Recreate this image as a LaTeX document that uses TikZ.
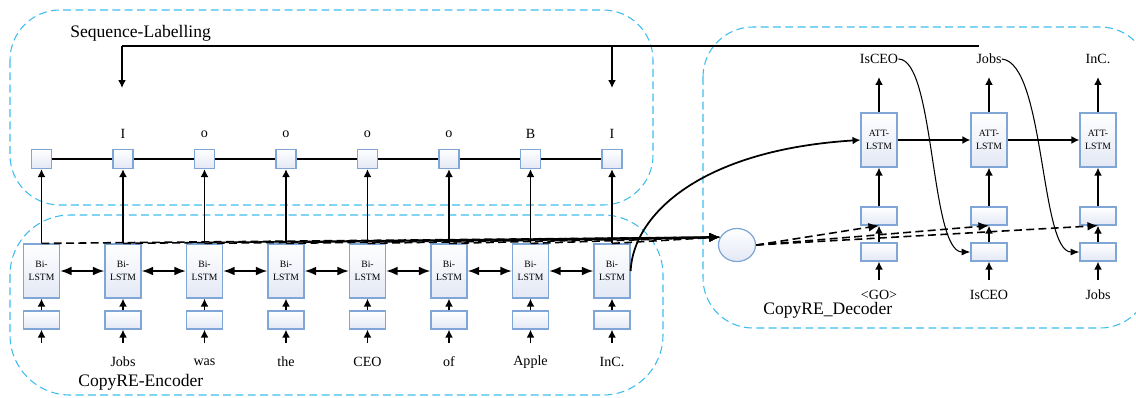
\documentclass[tikz,border=0pt]{standalone}
\usepackage{fontspec}
\setmainfont{Liberation Serif}
\usepackage{xcolor}
\usepackage{tikz}
\usetikzlibrary{arrows.meta, shapes.geometric, calc}

\definecolor{cellline}{HTML}{7FA6D4}
\definecolor{cellfill}{HTML}{E3E8F5}
\definecolor{regionline}{HTML}{3DBDED}

\tikzset{
  cellbase/.style={draw=cellline, line width=0.7pt, top color=white, bottom color=cellfill, inner sep=0pt},
  cell/.style={cellbase, minimum width=0.72cm, minimum height=1.08cm, align=center, font=\fontsize{5.5}{7.5}\selectfont},
  embed/.style={cellbase, minimum width=0.72cm, minimum height=0.36cm},
  tagbox/.style={cellbase, minimum width=0.4cm, minimum height=0.38cm},
  ctxnode/.style={cellbase, ellipse, minimum width=0.74cm, minimum height=0.66cm},
  region/.style={draw=regionline, line width=0.6pt, dash pattern=on 4.5pt off 2.5pt},
  title/.style={font=\fontsize{10}{12}\selectfont, inner sep=0pt},
  word/.style={font=\fontsize{8}{10}\selectfont, inner sep=0pt},
  flow/.style={-{Latex[length=4.5pt,width=4.5pt]}, line width=1pt},
  biflow/.style={{Latex[length=6.5pt,width=5pt]}-{Latex[length=6.5pt,width=5pt]}, line width=1pt},
  dashflow/.style={-{Latex[length=6pt,width=5pt]}, line width=0.9pt, dash pattern=on 4.5pt off 2.5pt},
  thinflow/.style={-{Latex[length=5pt,width=4pt]}, line width=0.6pt},
  tagline/.style={line width=0.6pt},
}

\begin{document}
\begin{tikzpicture}[x=0.02cm, y=-0.02cm]
    \useasboundingbox (0,0) rectangle (1136,397);

    % dashed regions
    \draw[region, rounded corners=1cm] (10,10) rectangle (653,205);
    \draw[region, rounded corners=1.2cm] (10,215) rectangle (663,395);
    \draw[region, rounded corners=1cm] (703,27) rectangle (1150,328);
    \node[title, anchor=west] (seqtitle) at (70,33) {Sequence-Labelling};
    \node[title, anchor=west] (enctitle) at (78,382) {CopyRE-Encoder};
    \node[title, anchor=west] (dectitle) at (763,310) {CopyRE\_Decoder};

    % encoder columns with tags
    \foreach \i/\w/\t in {1/{}/{},2/Jobs/I,3/was/o,4/the/o,5/CEO/o,6/of/o,7/Apple/B,8/InC./I} {
        \pgfmathsetmacro{\x}{41.5+81.5*(\i-1)}
        \node[cell] (enc\i) at (\x,271) {Bi-\\LSTM};
        \node[embed] (emb\i) at (\x,320) {};
        \node[tagbox] (tag\i) at (\x,159) {};
        \node[word] (lab\i) at (\x,134) {\t};
        \node[word] (w\i) at (\x,362) {\w};
        \coordinate (in\i) at (\x,343);
        \draw[flow] (in\i) -- (emb\i.south);
        \draw[flow] (emb\i) -- (enc\i);
        \draw[flow] (enc\i) -- (tag\i);
    }
    \foreach \i [evaluate=\i as \j using int(\i+1)] in {1,...,7} {
        \draw[biflow] (enc\i) -- (enc\j);
        \draw[tagline] (tag\i) -- (tag\j);
    }

    % feedback of the decoded entities
    \coordinate (fbend) at (979,46);
    \coordinate (fbL) at (122,46);
    \coordinate (fbR) at (612,46);
    \coordinate (fbLtip) at (122,88);
    \coordinate (fbRtip) at (612,88);
    \draw[line width=1pt] (fbend) -- (fbL);
    \draw[flow] (fbL) -- (fbLtip);
    \draw[flow] (fbR) -- (fbRtip);

    % context vector
    \node[ctxnode] (ctx) at (737,245) {};
    \foreach \i in {1,...,8}
        \draw[dashflow] (enc\i.north) -- (ctx.155);

    % decoder columns
    \foreach \j/\x/\o/\d in {1/879/IsCEO/{<GO>},2/989/Jobs/IsCEO,3/1098/InC./Jobs} {
        \node[cell] (att\j) at (\x,140) {ATT-\\LSTM};
        \node[embed] (up\j) at (\x,216) {};
        \node[embed] (low\j) at (\x,252) {};
        \node[word] (out\j) at (\x,59) {\o};
        \node[word] (dw\j) at (\x,295) {\d};
        \coordinate (din\j) at (\x,280);
        \coordinate (outtip\j) at (\x,77);
        \draw[flow] (din\j) -- (low\j.south);
        \draw[flow] (low\j) -- (up\j);
        \draw[flow] (up\j) -- (att\j);
        \draw[flow] (att\j) -- (outtip\j);
        \draw[dashflow] (ctx.east) -- (up\j.south);
    }
    \draw[flow] (att1) -- (att2);
    \draw[flow] (att2) -- (att3);

    % encoder state into the decoder
    \draw[flow] (enc8.east) .. controls (633,215) and (700,150) .. (att1.west);

    % copied entities fed back as inputs
    \draw[thinflow] (out1.east) .. controls (935,59) and (930,252) .. (low2.west);
    \draw[thinflow] (out2.east) .. controls (1045,63) and (1040,252) .. (low3.west);
\end{tikzpicture}
\end{document}
